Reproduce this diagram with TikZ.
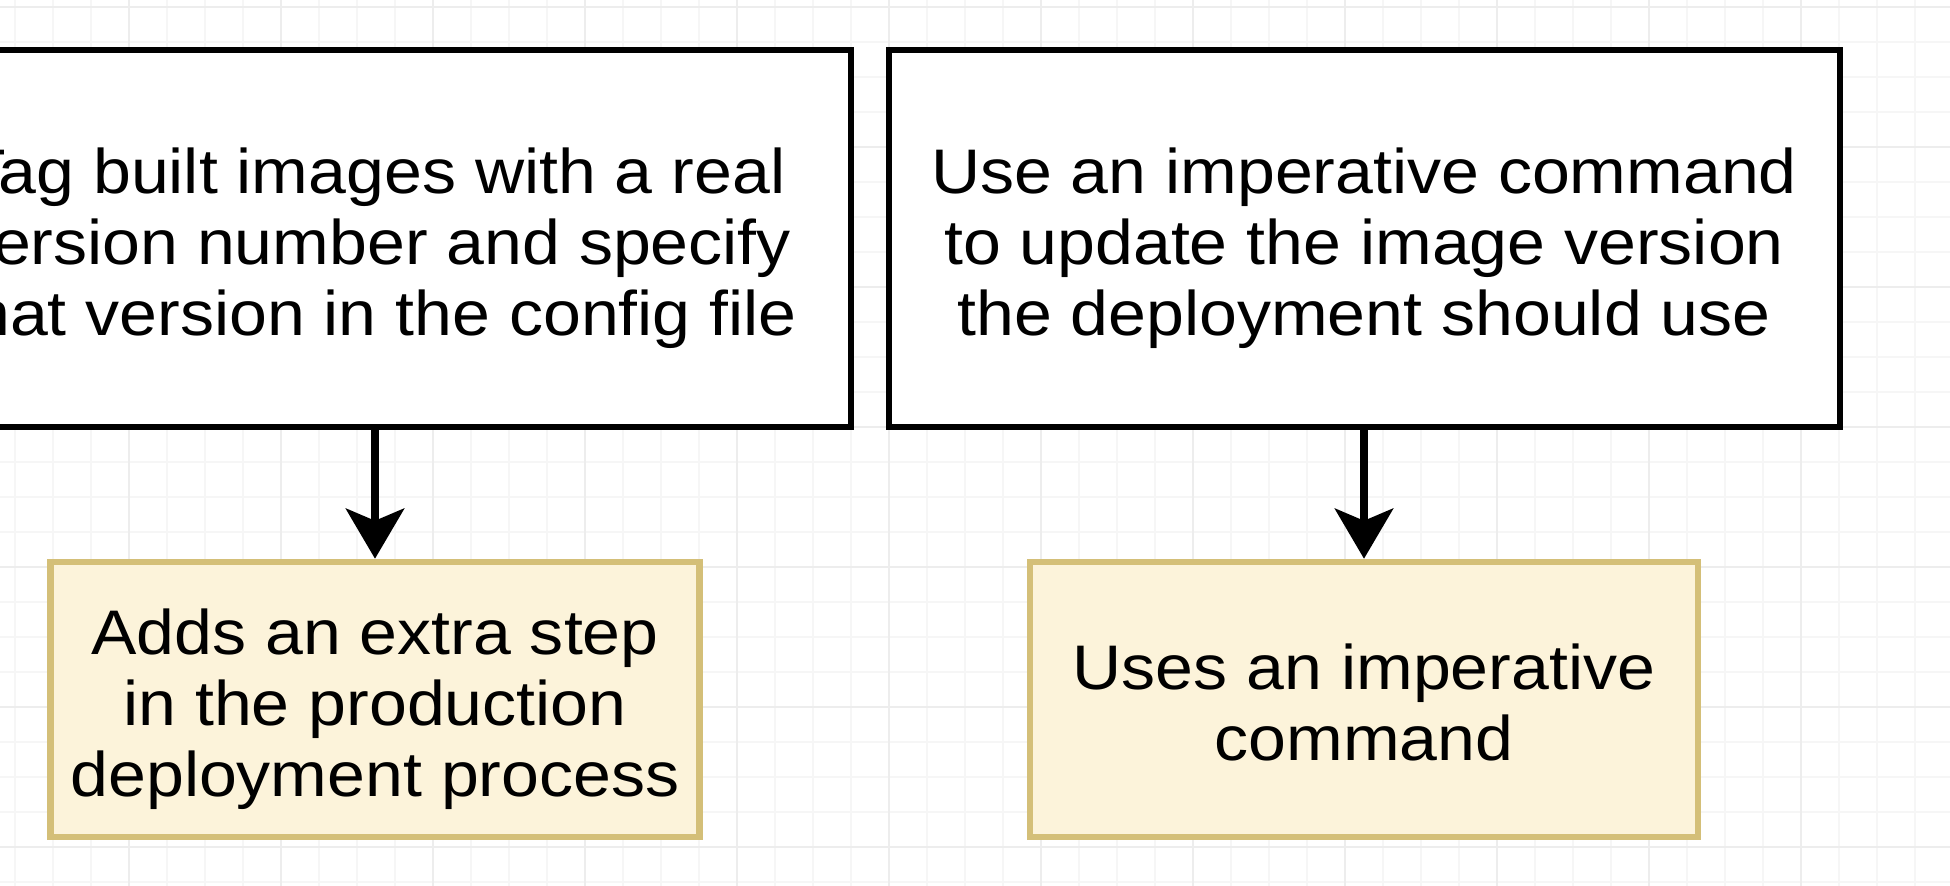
\documentclass[tikz,border=0pt]{standalone}
\usepackage{fontspec}
\setmainfont{Liberation Sans}[FakeStretch=1.08]
\usepackage{tikz}
\usetikzlibrary{positioning,arrows.meta}
\definecolor{noteline}{HTML}{D4BF78}
\definecolor{notefill}{HTML}{FCF3DA}
\definecolor{gridminor}{HTML}{F6F6F6}
\definecolor{gridmajor}{HTML}{EDEDED}
\newcommand{\boxfont}{\fontsize{31.5pt}{35.5pt}\selectfont}
\newcommand{\tstrut}{\rule{0pt}{33pt}}
\newcommand{\bstrut}{\rule[-7pt]{0pt}{7pt}}

\begin{document}
\begin{tikzpicture}[
  x=0.5pt, y=-0.5pt,
  option/.style={draw=black, line width=3pt, fill=white, minimum width=475.5pt,
                 minimum height=188.5pt, align=center, font=\boxfont},
  result/.style={draw=noteline, line width=3.25pt, fill=notefill,
                 minimum height=137.5pt, align=center, font=\boxfont},
  arr/.style={-{Stealth[length=25pt, width=29pt, inset=6pt]}, line width=4.25pt},
  minor/.style={draw=gridminor, line width=0.6pt},
  major/.style={draw=gridmajor, line width=0.8pt}
]
  \useasboundingbox (0,0) rectangle (1950,886);
  \clip (0,0) rectangle (1950,886);
  \fill[white] (0,0) rectangle (1950,886);

  % Background grid
  \foreach \gx in {15,53,...,1950} \draw[minor] (\gx,0) -- (\gx,886);
  \foreach \gy in {7,42,...,886} \draw[minor] (0,\gy) -- (1950,\gy);
  \foreach \gx in {129,281,...,1950} \draw[major] (\gx,0) -- (\gx,886);
  \foreach \gy in {7,147,...,886} \draw[major] (0,\gy) -- (1950,\gy);

  % Tag images (left)
  \node[option] (tag) at (375,238.5)
    {\tstrut Tag built images with a real\\version number and specify\\that version in the config file\bstrut};
  \node[result, minimum width=324.5pt] (extra) at (375,699.5)
    {\tstrut Adds an extra step\\in the production\\deployment process\bstrut};
  \draw[arr] (tag) -- (extra);

  % Imperative command (right)
  \node[option] (imp) at (1364,238.5)
    {\tstrut Use an imperative command\\to update the image version\\the deployment should use\bstrut};
  \node[result, minimum width=334pt] (uses) at (1364,699.5)
    {\tstrut Uses an imperative\\command\bstrut};
  \draw[arr] (imp) -- (uses);
\end{tikzpicture}
\end{document}
